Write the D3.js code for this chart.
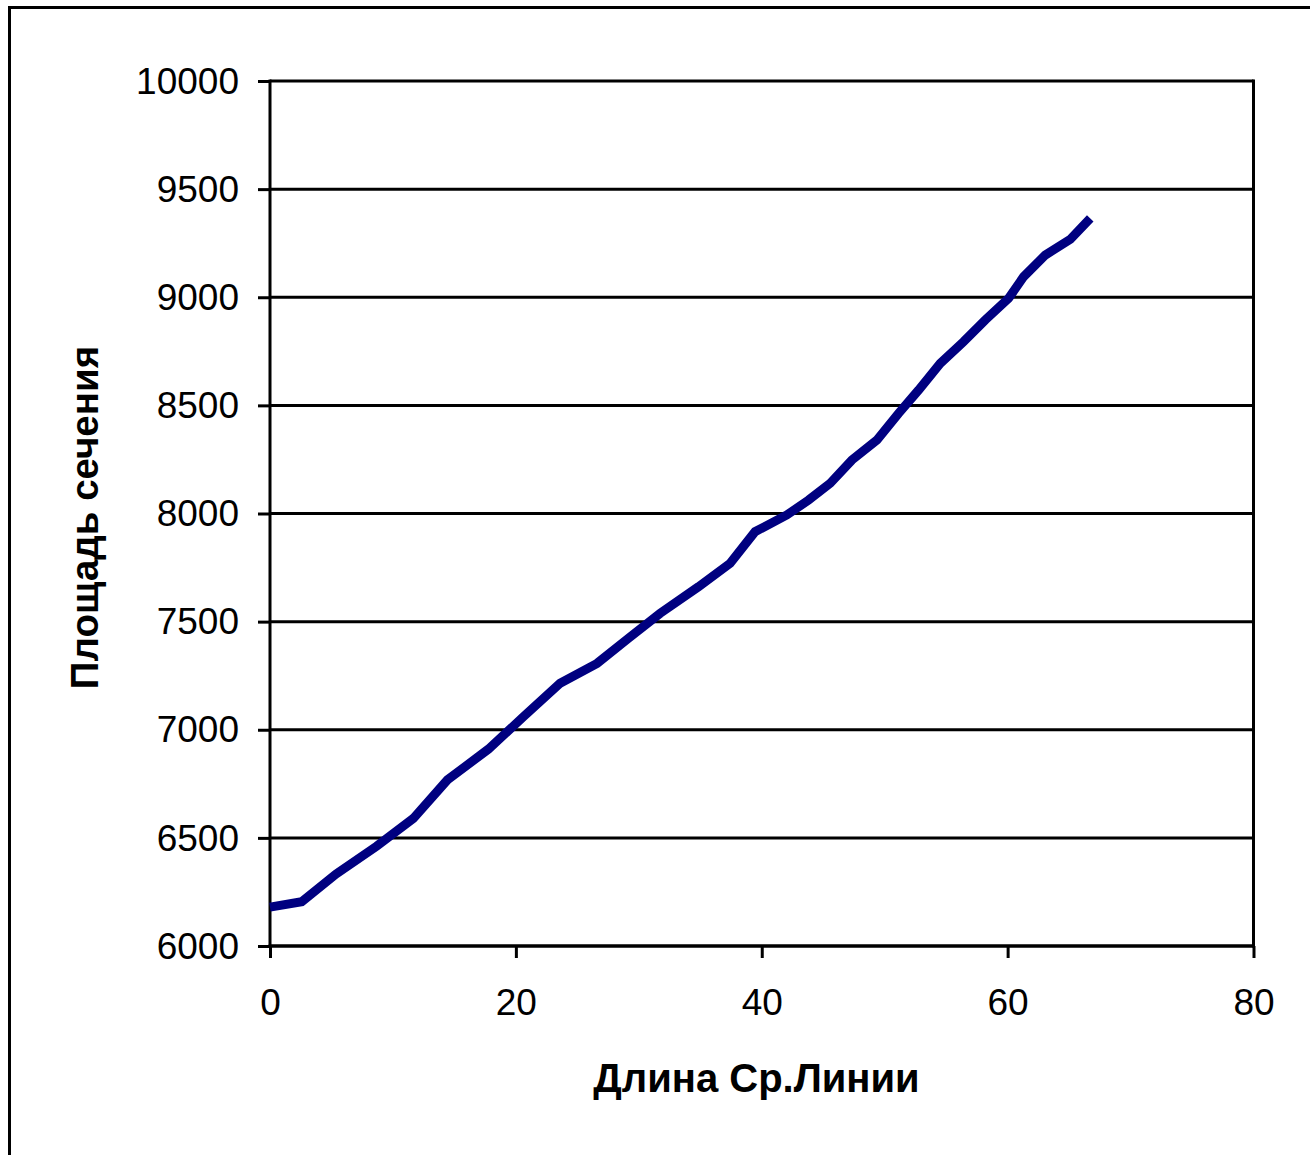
<!DOCTYPE html>
<html>
<head>
<meta charset="utf-8">
<script src="https://cdn.jsdelivr.net/npm/d3@7"></script>
<style>
  html, body { margin: 0; padding: 0; background: #fff; }
  svg { display: block; }
</style>
</head>
<body>
<script>
const xValues = [0, 2.58, 5.37, 8.68, 11.66, 14.43, 17.76, 20.61, 23.6, 26.6, 29.16, 31.73, 34.85, 37.43, 39.46, 42.04, 43.8, 45.57, 47.33, 49.37, 51.13, 52.76, 54.52, 56.41, 58.18, 60.08, 61.3, 63.06, 65.1, 66.72];
const yValues = [6180, 6205, 6333, 6462, 6590, 6768, 6910, 7060, 7215, 7307, 7423, 7538, 7661, 7770, 7916, 7993, 8062, 8140, 8247, 8340, 8463, 8571, 8694, 8794, 8895, 8995, 9095, 9195, 9268, 9365];
const xTicks = [0, 20, 40, 60, 80];
const yTicks = [6000, 6500, 7000, 7500, 8000, 8500, 9000, 9500, 10000];
const xTitle = "Длина Ср.Линии";
const yTitle = "Площадь сечения";

(function () {
const W = 1310, H = 1155;
const pL = 270, pR = 1253.5, pT = 81, pB = 946;
const font = "'Liberation Sans', Arial, sans-serif";

const svg = d3.select("body").append("svg").attr("width", W).attr("height", H);
svg.append("rect").attr("width", W).attr("height", H).attr("fill", "#fff");

// outer chart frame (extends beyond the picture on right and bottom)
svg.append("rect").attr("x", 9.5).attr("y", 7.5).attr("width", 1400).attr("height", 1300)
  .attr("fill", "none").attr("stroke", "#000").attr("stroke-width", 3);

const x = d3.scaleLinear().domain([0, 80]).range([pL, pR]);
const y = d3.scaleLinear().domain([6000, 10000]).range([pB, pT]);

// gridlines
svg.append("g").selectAll("line").data(yTicks).join("line")
  .attr("x1", pL).attr("x2", pR)
  .attr("y1", d => y(d)).attr("y2", d => y(d))
  .attr("stroke", "#000").attr("stroke-width", 3);

// right border of plot area
svg.append("line").attr("x1", pR).attr("x2", pR).attr("y1", pT - 1.5).attr("y2", pB + 1.5)
  .attr("stroke", "#000").attr("stroke-width", 3);

// y axis
const gy = svg.append("g").attr("transform", `translate(${pL},0)`)
  .call(d3.axisLeft(y).tickValues(yTicks).tickSize(12).tickPadding(19).tickFormat(d3.format("d")));
gy.select(".domain").attr("stroke", "#000").attr("stroke-width", 3).attr("d", `M0,${pT - 1.5}V${pB + 1.5}`);
gy.selectAll(".tick line").attr("stroke", "#000").attr("stroke-width", 3);
gy.selectAll(".tick text").attr("font-family", font).attr("font-size", 37).attr("fill", "#000").attr("dy", "0.33em");

// x axis
const gx = svg.append("g").attr("transform", `translate(0,${pB})`)
  .call(d3.axisBottom(x).tickValues(xTicks).tickSize(12).tickPadding(31).tickFormat(d3.format("d")));
gx.select(".domain").attr("stroke", "#000").attr("stroke-width", 3).attr("d", `M${pL - 1.5},0H${pR + 1.5}`);
gx.selectAll(".tick line").attr("stroke", "#000").attr("stroke-width", 3);
gx.selectAll(".tick text").attr("font-family", font).attr("font-size", 37).attr("fill", "#000");

// data line
const data = xValues.map((v, i) => [v, yValues[i]]);
svg.append("path").datum(data)
  .attr("fill", "none").attr("stroke", "#000080").attr("stroke-width", 9)
  .attr("stroke-linejoin", "miter").attr("stroke-linecap", "butt")
  .attr("d", d3.line().x(d => x(d[0])).y(d => y(d[1])));

// titles
svg.append("text").attr("x", 756.5).attr("y", 1092).attr("text-anchor", "middle")
  .attr("font-family", font).attr("font-weight", "bold").attr("font-size", 40).text(xTitle);
svg.append("text").attr("transform", "translate(98,517.5) rotate(-90)").attr("text-anchor", "middle")
  .attr("font-family", font).attr("font-weight", "bold").attr("font-size", 38.5).text(yTitle);
})();
</script>
</body>
</html>
